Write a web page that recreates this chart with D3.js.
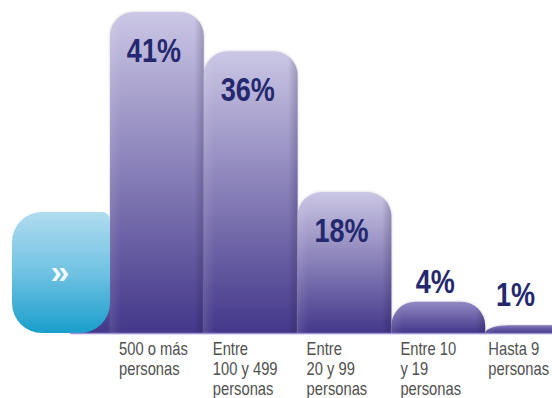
<!DOCTYPE html>
<html>
<head>
<meta charset="utf-8">
<script src="https://cdn.jsdelivr.net/npm/d3@7"></script>
<style>
  html, body { margin: 0; padding: 0; background: #fff; }
  svg { display: block; }
  .narrow { font-family: "Liberation Sans", Arial, sans-serif; }
</style>
</head>
<body>
<svg id="chart" width="552" height="398"></svg>
<script>
// Company size groups, one label line per array entry
const categories = [
  ["500 o más", "personas"],
  ["Entre", "100 y 499", "personas"],
  ["Entre", "20 y 99", "personas"],
  ["Entre 10", "y 19", "personas"],
  ["Hasta 9", "personas"]
];
// Share of companies per group (%)
const values = [41, 36, 18, 4, 1];
const valueLabels = ["41%", "36%", "18%", "4%", "1%"];

const W = 552, H = 398;
const NARROW = 0.82; // horizontal squeeze for the condensed lettering
const svg = d3.select("#chart");
const defs = svg.append("defs");

const x = d3.scaleBand().domain(d3.range(values.length)).range([110, 579]).padding(0);
const y = d3.scaleLinear().domain([0, 41]).range([333, 12]);
const base = y(0);

// soft halo around the bars
const f = defs.append("filter").attr("id", "halo").attr("x", "-10%").attr("y", "-10%").attr("width", "120%").attr("height", "120%");
f.append("feDropShadow").attr("dx", 0).attr("dy", 0).attr("stdDeviation", 1.8)
  .attr("flood-color", "#808080").attr("flood-opacity", 0.35);

// horizontal shading: lighter left edge, darker right edge
const side = defs.append("linearGradient").attr("id", "side").attr("x1", 0).attr("x2", 1).attr("y1", 0).attr("y2", 0);
side.append("stop").attr("offset", 0).attr("stop-color", "#fff").attr("stop-opacity", 0.10);
side.append("stop").attr("offset", 0.12).attr("stop-color", "#fff").attr("stop-opacity", 0);
side.append("stop").attr("offset", 0.9).attr("stop-color", "#000").attr("stop-opacity", 0);
side.append("stop").attr("offset", 1).attr("stop-color", "#1a1050").attr("stop-opacity", 0.22);

// blue lead-in tab gradient
const blue = defs.append("linearGradient").attr("id", "blueGrad").attr("x1", 0).attr("x2", 0).attr("y1", 0).attr("y2", 1);
blue.append("stop").attr("offset", 0).attr("stop-color", "#b0dcef");
blue.append("stop").attr("offset", 0.5).attr("stop-color", "#70c2e3");
blue.append("stop").attr("offset", 1).attr("stop-color", "#1a9ecb");

const topColor = d3.interpolateRgb("#8178bb", "#cbc7e5");
const bottomColor = "#43378a";

function barPath(x0, top, w, h) {
  const r = Math.min(24, w / 2);
  const ry = Math.min(r, h);
  return `M${x0},${base} L${x0},${top + ry} A${r},${ry} 0 0 1 ${x0 + r},${top} ` +
         `L${x0 + w - r},${top} A${r},${ry} 0 0 1 ${x0 + w},${top + ry} L${x0 + w},${base} Z`;
}

// purple foot showing under the rounded corner of the blue tab
const footGrad = defs.append("linearGradient").attr("id", "footGrad").attr("x1", 0).attr("x2", 0).attr("y1", 0).attr("y2", 1);
footGrad.append("stop").attr("offset", 0).attr("stop-color", "#5a4f9c");
footGrad.append("stop").attr("offset", 1).attr("stop-color", bottomColor);
svg.append("rect").attr("x", 70).attr("y", base - 34).attr("width", 50).attr("height", 34).attr("fill", "url(#footGrad)");

// bars, per-bar vertical gradient
values.forEach((v, i) => {
  const top = y(v), h = base - top;
  const g = defs.append("linearGradient").attr("id", "bar" + i)
    .attr("gradientUnits", "userSpaceOnUse").attr("x1", 0).attr("x2", 0).attr("y1", top).attr("y2", base);
  g.append("stop").attr("offset", 0).attr("stop-color", topColor(Math.min(1, h / 140)));
  g.append("stop").attr("offset", 1).attr("stop-color", bottomColor);
});

const bars = svg.append("g").selectAll("g").data(values).join("g");
bars.append("path")
  .attr("d", (v, i) => barPath(x(i), y(v), x.bandwidth(), base - y(v)))
  .attr("fill", (v, i) => `url(#bar${i})`)
  .attr("filter", "url(#halo)");
bars.append("path")
  .attr("d", (v, i) => barPath(x(i), y(v), x.bandwidth(), base - y(v)))
  .attr("fill", "url(#side)");

// blue tab with arrow mark
const bx0 = 12, bx1 = x(0), bTop = 212, R = 30;
svg.append("path")
  .attr("d", `M${bx0},${bTop + R} A${R},${R} 0 0 1 ${bx0 + R},${bTop} L${bx1 - 8},${bTop} ` +
             `A8,8 0 0 1 ${bx1},${bTop + 8} L${bx1},${base - R} A${R},${R} 0 0 1 ${bx1 - R},${base} ` +
             `L${bx0 + R},${base} A${R},${R} 0 0 1 ${bx0},${base - R} Z`)
  .attr("fill", "url(#blueGrad)");
svg.append("text").attr("x", (bx0 + bx1) / 2 - 1).attr("y", 283)
  .attr("text-anchor", "middle").attr("fill", "#fff").attr("fill-opacity", 0.92)
  .attr("font-family", "Liberation Sans, sans-serif").attr("font-weight", "bold").attr("font-size", 34)
  .text("»");

// baseline highlight
svg.append("line").attr("x1", 70).attr("x2", W).attr("y1", base + 0.5).attr("y2", base + 0.5)
  .attr("stroke", "#9a92d2").attr("stroke-width", 1.5);

// value labels: inside tall bars, above short ones
svg.append("g").selectAll("text").data(values).join("text")
  .attr("class", "narrow")
  .attr("transform", (v, i) => {
    const x0 = x(i), x1 = Math.min(W, x0 + x.bandwidth());
    const tx = (x0 + x1) / 2 - 3;
    const ty = (base - y(v) > 60) ? y(v) + 50 : Math.min(y(v) - 9, 306);
    return `translate(${tx},${ty}) scale(${NARROW},1)`;
  })
  .attr("text-anchor", "middle")
  .attr("font-weight", "bold").attr("font-size", 33)
  .attr("fill", "#24286e")
  .text((v, i) => valueLabels[i]);

// category labels
const cat = svg.append("g").selectAll("text").data(categories).join("text")
  .attr("class", "narrow")
  .attr("font-size", 18).attr("fill", "#505050")
  .attr("transform", (d, i) => `translate(${x(i) + 9},355) scale(${NARROW},1)`);
cat.selectAll("tspan").data(d => d).join("tspan")
  .attr("x", 0)
  .attr("dy", (d, j) => j === 0 ? 0 : 20)
  .text(d => d);
// keep the last label inside the frame
cat.each(function(d, i) {
  const w = this.getBBox().width * NARROW;
  const tx = x(i) + 9;
  if (tx + w > W - 3) {
    d3.select(this).attr("transform", `translate(${W - 3 - w},355) scale(${NARROW},1)`);
  }
});
</script>
</body>
</html>
